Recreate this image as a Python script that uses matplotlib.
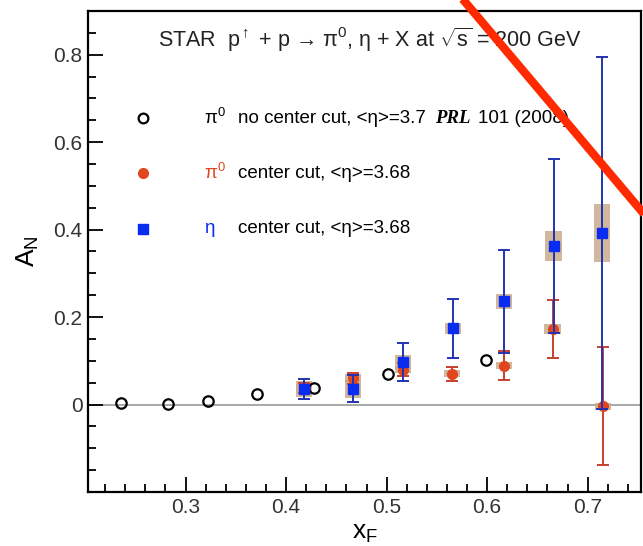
'''
STAR A_N vs x_F for pi0 and eta, redrawn from a slide screenshot
'''
import matplotlib
matplotlib.use('Agg')
import matplotlib.pyplot as plt
from matplotlib.patches import Rectangle
from matplotlib.lines import Line2D
from matplotlib.ticker import MultipleLocator, FuncFormatter

plt.rcParams['font.family'] = ['Liberation Sans', 'DejaVu Sans']
plt.rcParams['mathtext.fontset'] = 'custom'
plt.rcParams['mathtext.rm'] = 'Liberation Sans'
plt.rcParams['mathtext.it'] = 'Liberation Sans:italic'
plt.rcParams['mathtext.bf'] = 'Liberation Sans:bold'

# pi0, no center cut (PRL 101, 2008)
x_open = [0.236, 0.283, 0.322, 0.371, 0.428, 0.501, 0.599]
y_open = [0.004, 0.002, 0.008, 0.024, 0.037, 0.069, 0.103]

# pi0, center cut
x_red = [0.418, 0.467, 0.516, 0.565, 0.617, 0.665, 0.715]
y_red = [0.038, 0.060, 0.080, 0.070, 0.089, 0.173, -0.004]
err_red = [0.012, 0.012, 0.015, 0.017, 0.034, 0.066, 0.135]
sys_red = [0.010, 0.010, 0.008, 0.008, 0.008, 0.012, 0.008]

# eta, center cut
x_blue = [0.418, 0.467, 0.516, 0.566, 0.617, 0.666, 0.714]
y_blue = [0.036, 0.036, 0.097, 0.174, 0.236, 0.362, 0.392]
err_blue = [0.023, 0.031, 0.043, 0.068, 0.118, 0.199, 0.402]
sys_blue = [0.018, 0.020, 0.016, 0.012, 0.017, 0.034, 0.067]

box_hw = 0.008
tan = '#c9ab8c'
red = '#e0471f'
red_bar = '#c8402e'
blue = '#0a2cf0'
blue_bar = '#2233b0'

fig = plt.figure(figsize=(6.43, 5.46), dpi=100)
ax = fig.add_axes([88 / 643, 54 / 546, 553 / 643, 481 / 546])

ax.axhline(0, color='#999999', lw=1.2, zorder=1)

# systematic boxes
for xs, ys, ss in [(x_red, y_red, sys_red), (x_blue, y_blue, sys_blue)]:
    for xv, yv, sv in zip(xs, ys, ss):
        ax.add_patch(Rectangle((xv - box_hw, yv - sv), 2 * box_hw, 2 * sv,
                               facecolor=tan, edgecolor='none', alpha=0.85, zorder=2))

ax.plot(x_open, y_open, 'o', ms=7.5, mfc='none', mec='black', mew=1.6, zorder=3)
ax.errorbar(x_red, y_red, yerr=err_red, fmt='o', ms=7, color=red, ecolor=red_bar,
            elinewidth=1.4, capsize=4, capthick=1.4, zorder=4)
ax.errorbar(x_blue, y_blue, yerr=err_blue, fmt='s', ms=7, color=blue, ecolor=blue_bar,
            elinewidth=1.4, capsize=4, capthick=1.4, zorder=5)

def tick_fmt(v, p):
    if v < -1e-9:
        return ''
    return '%g' % round(v, 2)

ax.set_xlim(0.203, 0.753)
ax.set_ylim(-0.2, 0.9)
ax.xaxis.set_major_locator(MultipleLocator(0.1))
ax.xaxis.set_minor_locator(MultipleLocator(0.02))
ax.yaxis.set_major_locator(MultipleLocator(0.2))
ax.yaxis.set_minor_locator(MultipleLocator(0.05))
ax.yaxis.set_major_formatter(FuncFormatter(tick_fmt))
ax.xaxis.set_major_formatter(FuncFormatter(tick_fmt))
ax.tick_params(which='both', direction='in', top=False, right=False,
               labelsize=15, labelcolor='#333333', width=1.3)
ax.tick_params(which='major', length=11, pad=4)
ax.tick_params(which='minor', length=6)
for s in ax.spines.values():
    s.set_linewidth(1.6)

ax.set_ylabel('A$_{\\mathrm{N}}$', fontsize=19, labelpad=9)
ax.set_xlabel('x$_{\\mathrm{F}}$', fontsize=19, labelpad=3)

ax.text(0.51, 0.94, 'STAR  p$^{\\uparrow}$ + p \u2192 \u03c0$^{0}$, \u03b7 + X at $\\sqrt{\\mathrm{s}}$ = 200 GeV',
        transform=ax.transAxes, ha='center', va='center', fontsize=15.5, color='#222222')

# hand-made legend
rows = [0.7775, 0.663, 0.547]
lfs = 13.5
ax.plot([0.0995], [rows[0]], 'o', ms=7, mfc='none', mec='black', mew=1.6, transform=ax.transAxes)
ax.plot([0.0995], [rows[1]], 'o', ms=7, color=red, transform=ax.transAxes)
ax.plot([0.0995], [rows[2]], 's', ms=7, color=blue, transform=ax.transAxes)
ax.text(0.210, rows[0], '\u03c0$^{0}$', transform=ax.transAxes, va='center', fontsize=lfs, color='black')
ax.text(0.210, rows[1], '\u03c0$^{0}$', transform=ax.transAxes, va='center', fontsize=lfs, color=red)
ax.text(0.210, rows[2], '\u03b7', transform=ax.transAxes, va='center', fontsize=lfs, color=blue)
ax.text(0.271, rows[0], 'no center cut, <\u03b7>=3.7', transform=ax.transAxes, va='center', fontsize=lfs)
ax.text(0.627, rows[0], 'PRL', transform=ax.transAxes, va='center', fontsize=lfs,
        family='Liberation Serif', style='italic', weight='bold')
ax.text(0.705, rows[0], '101 (2008)', transform=ax.transAxes, va='center', fontsize=lfs)
ax.text(0.271, rows[1], 'center cut, <\u03b7>=3.68', transform=ax.transAxes, va='center', fontsize=lfs)
ax.text(0.271, rows[2], 'center cut, <\u03b7>=3.68', transform=ax.transAxes, va='center', fontsize=lfs)

# red strike line drawn over the slide
fig.add_artist(Line2D([455 / 643, 660 / 643], [1 + 10 / 546, 1 - 233 / 546],
                      transform=fig.transFigure, color='#ff2a00', lw=6, solid_capstyle='butt'))

fig.savefig('out.png', dpi=100)
